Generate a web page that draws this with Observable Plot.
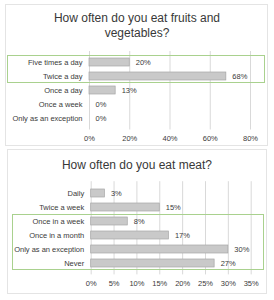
<!DOCTYPE html>
<html><head><meta charset="utf-8">
<script src="https://cdn.jsdelivr.net/npm/d3@7"></script>
<script src="https://cdn.jsdelivr.net/npm/@observablehq/plot@0.6"></script>
<style>
html,body{margin:0;padding:0;background:#fff;}
#page{position:relative;width:274px;height:300px;overflow:hidden;font-family:"Liberation Sans",Arial,sans-serif;}
.box{position:absolute;border:1px solid #e4e4e4;box-sizing:border-box;}
.title{position:absolute;left:0;width:274px;text-align:center;color:#383838;font-size:12px;line-height:15px;}
.hl{position:absolute;border:1px solid #a9d18e;box-sizing:border-box;pointer-events:none;}
.plot{position:absolute;left:0;}
.plot text{fill:#3a3a3a;}
</style></head>
<body><div id="page"></div>
<script>
const fruitCats = ["Five times a day","Twice a day","Once a day","Once a week","Only as an exception"];
const fruitVals = [0.20,0.68,0.13,0,0];
const fruitTicks = [0,0.2,0.4,0.6,0.8];
const fruitTitle = ["How often do you eat fruits and","vegetables?"];
const fruitHighlight = ["Five times a day","Twice a day"];

const meatCats = ["Daily","Twice a week","Once in a week","Once in a month","Only as an exception","Never"];
const meatVals = [0.03,0.15,0.08,0.17,0.30,0.27];
const meatTicks = [0,0.05,0.10,0.15,0.20,0.25,0.30,0.35];
const meatTitle = ["How often do you eat meat?"];
const meatHighlight = ["Once in a week","Once in a month","Only as an exception","Never"];

const page = document.getElementById("page");
function box(l,t,w,h){const d=document.createElement("div");d.className="box";Object.assign(d.style,{left:l+"px",top:t+"px",width:w+"px",height:h+"px"});page.appendChild(d);}
box(5,4,263,142);
box(7,149,260,145);

function title(lines, top){
  const d=document.createElement("div");d.className="title";d.style.top=top+"px";
  d.innerHTML=lines.join("<br>");page.appendChild(d);
}
title(fruitTitle,11);
title(meatTitle,158);

function chart(cats, vals, ticks, dom, top, h, mt, mb, ml, mr, hlCats, hlLeft, hlRight){
  const data = cats.map((c,i)=>({cat:c,v:vals[i]}));
  const p = Plot.plot({
    width:274, height:h, marginTop:mt, marginBottom:mb, marginLeft:ml, marginRight:mr,
    style:{fontFamily:"Liberation Sans, Arial, sans-serif", fontSize:"7.5px", color:"#3a3a3a", background:"transparent"},
    x:{domain:dom, label:null},
    y:{domain:cats, padding:0.45, label:null},
    marks:[
      Plot.gridX(ticks,{stroke:"#d9d9d9", strokeOpacity:1}),
      Plot.axisX(ticks,{tickFormat:d3.format(".0%"), tickSize:0, tickPadding:6, fill:"#3a3a3a", label:null}),
      Plot.axisY({tickSize:0, tickPadding:7, fill:"#3a3a3a", label:null}),
      Plot.barX(data,{x:"v", y:"cat", fill:"#c9c9c9", stroke:"#a5a5a5", strokeWidth:0.7}),
      Plot.text(data,{x:"v", y:"cat", text:d=>d3.format(".0%")(d.v), dx:6, textAnchor:"start", fill:"#3a3a3a"})
    ]
  });
  p.classList.add("plot");
  p.style.top = top+"px";
  page.appendChild(p);
  const y = p.scale("y");
  const step = y.step;
  const first = y.apply(hlCats[0]), last = y.apply(hlCats[hlCats.length-1]);
  const pad = (step - y.bandwidth)/2;
  const t = top + first - pad, b = top + last + y.bandwidth + pad;
  const d=document.createElement("div");d.className="hl";
  Object.assign(d.style,{left:hlLeft+"px",top:t+"px",width:(hlRight-hlLeft)+"px",height:(b-t)+"px"});
  page.appendChild(d);
}
chart(fruitCats, fruitVals, fruitTicks, [0,0.8], 40, 110, 11, 20.5, 89, 24, fruitHighlight, 7, 265);
chart(meatCats, meatVals, meatTicks, [0,0.35], 170, 125, 11.2, 20.6, 90.7, 23.3, meatHighlight, 12, 264);
</script></body></html>
